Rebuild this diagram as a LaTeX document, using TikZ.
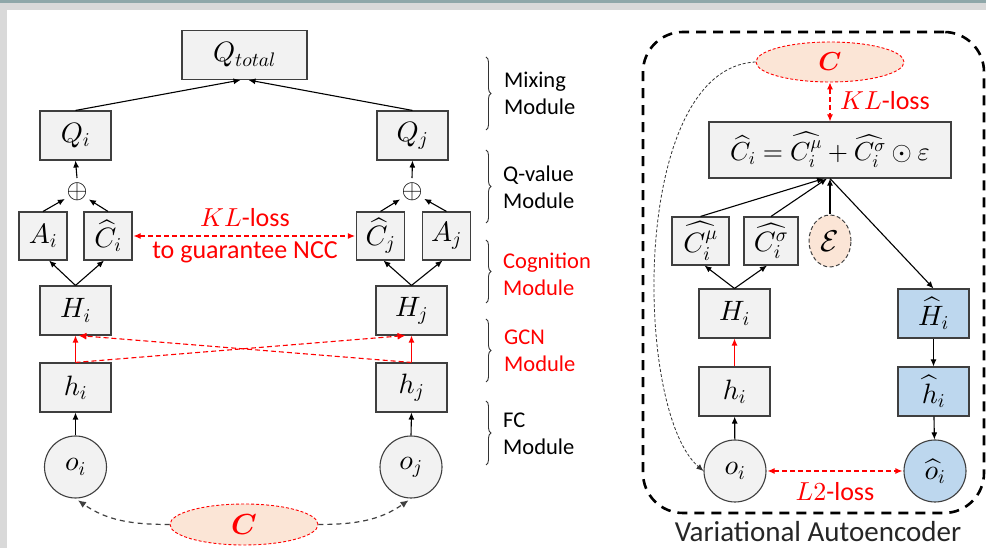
\RequirePackage{fix-cm}
\documentclass[tikz,border=0pt]{standalone}
\usepackage{amsmath}
\usepackage{bm}
\usepackage{fontspec}
\setmainfont{Carlito}
\usepackage{xcolor}
\usepackage{tikz}
\usetikzlibrary{arrows.meta,calc,positioning,shapes.geometric,decorations.pathreplacing}
\DeclareFontShape{OML}{cmm}{m}{it}{<->cmmi10}{}
\DeclareFontShape{OML}{cmm}{b}{it}{<->cmmib10}{}
\DeclareFontShape{OMS}{cmsy}{m}{n}{<->cmsy10}{}
\DeclareFontShape{OMS}{cmsy}{b}{n}{<->cmbsy10}{}
\DeclareFontShape{OT1}{cmr}{m}{n}{<->cmr10}{}
\DeclareFontShape{OT1}{cmr}{bx}{n}{<->cmbx10}{}
\DeclareFontShape{OMX}{cmex}{m}{n}{<->cmex10}{}
\definecolor{boxfill}{HTML}{F2F2F2}
\definecolor{boxline}{HTML}{3F3F3F}
\definecolor{ctxfill}{HTML}{FBE5D6}
\definecolor{decfill}{HTML}{BDD7EE}
\definecolor{lossred}{HTML}{FF0000}
\definecolor{frametop}{HTML}{8FA7A9}
\definecolor{framegray}{HTML}{D9D9D9}
\newcommand{\boxmath}{\fontsize{28}{30}\selectfont}
\tikzset{
  blk/.style={
    rectangle,
    draw=boxline,
    line width=1.1pt,
    fill=boxfill,
    inner sep=0pt,
    minimum width=71pt,
    minimum height=49pt,
    font=\boxmath
  },
  smallblk/.style={minimum width=48pt, minimum height=48pt},
  decbox/.style={fill=decfill},
  agent/.style={circle, draw=boxline, line width=1.1pt, fill=boxfill, inner sep=0pt, minimum size=62pt, font=\boxmath},
  sumop/.style={circle, inner sep=0pt, minimum size=18pt, font=\fontsize{27}{28}\selectfont},
  ctxnode/.style={ellipse, draw=lossred, line width=0.9pt, dash pattern=on 3pt off 2pt, fill=ctxfill, inner sep=0pt, text=lossred, font=\fontsize{26}{28}\selectfont},
  noise/.style={ellipse, draw=boxline, line width=1pt, dash pattern=on 4pt off 2.5pt, fill=ctxfill, inner sep=0pt, minimum width=42pt, minimum height=52pt, font=\fontsize{30}{32}\selectfont},
  flow/.style={line width=1.1pt, draw=black, -{Latex[length=7pt,width=6pt]}},
  gcnflow/.style={flow, draw=lossred},
  crossflow/.style={line width=1.1pt, draw=lossred, dash pattern=on 5pt off 3pt, -{Latex[length=8pt,width=7pt]}},
  lossflow/.style={line width=1.1pt, draw=lossred, dash pattern=on 5pt off 3pt, {Latex[length=7pt,width=6pt]}-{Latex[length=7pt,width=6pt]}},
  ctxflow/.style={line width=1.2pt, draw=black!75, dash pattern=on 5pt off 4pt, -{Latex[length=8pt,width=7pt]}},
  encflow/.style={line width=0.8pt, draw=black!80, dash pattern=on 3pt off 2pt, -{Latex[length=7pt,width=6pt]}},
  losslabel/.style={text=lossred, font=\fontsize{26}{32}\selectfont, align=center, inner sep=0pt},
  modbrace/.style={decorate, decoration={brace, amplitude=5pt}, line width=0.9pt, draw=black!80},
  modlabel/.style={anchor=west, align=left, inner sep=0pt, font=\fontsize{22.5}{27}\selectfont},
  vaebox/.style={draw=black, line width=2.6pt, dash pattern=on 10pt off 7pt, rounded corners=40pt, inner sep=0pt},
  vaetitle/.style={font=\fontsize{29}{31}\selectfont, text=black!85, inner sep=0pt}
}

\begin{document}
\begin{tikzpicture}[x=1pt,y=1pt]
\useasboundingbox (0,0) rectangle (986,548);
\fill[white] (0,0) rectangle (986,548);
\fill[framegray] (0,538) rectangle (986,548);
\fill[frametop] (0,545) rectangle (986,548);
\fill[framegray] (0,0) rectangle (7,538);

% agent network
\node[blk, minimum width=125pt] (qtot) at (244.5,493) {$Q_{total}$};
\node[blk] (qi) at (75.5,412.5) {$Q_i$};
\node[blk] (qj) at (412.5,412.5) {$Q_j$};
\node[sumop] (plusi) at (77,356) {$\oplus$};
\node[sumop] (plusj) at (412,356) {$\oplus$};
\node[blk, smallblk] (ai) at (43,312) {$A_i$};
\node[blk, smallblk] (chati) at (108,312) {$\widehat{C}_i$};
\node[blk, smallblk] (chatj) at (380.5,312) {$\widehat{C}_j$};
\node[blk, smallblk] (aj) at (446.5,312) {$A_j$};
\node[blk] (hhi) at (75.5,237.5) {$H_i$};
\node[blk] (hhj) at (411.5,237.5) {$H_j$};
\node[blk] (hi) at (75.5,160.5) {$h_i$};
\node[blk] (hj) at (411.5,160.5) {$h_j$};
\node[agent] (oi) at (75.5,81) {$o_i$};
\node[agent] (oj) at (411,81) {$o_j$};
\node[ctxnode, minimum width=148pt, minimum height=41pt, font=\fontsize{29}{31}\selectfont] (ctx) at (244,23.5) {$\bm{C}$};

\draw[flow] (qi.north) -- ([xshift=-4pt]qtot.south);
\draw[flow] (qj.north) -- ([xshift=4pt]qtot.south);
\foreach \a/\b in {plusi/qi,plusj/qj,oi/hi,oj/hj}
  \draw[flow] (\a.north) -- (\b.south);
\foreach \a/\b in {ai/plusi,chati/plusi,chatj/plusj,aj/plusj}
  \draw[flow] (\a.north) -- (\b);
\draw[flow] (hhi.north) -- ([xshift=6pt]ai.south);
\draw[flow] (hhi.north) -- ([xshift=-4pt]chati.south);
\draw[flow] (hhj.north) -- ([xshift=3pt]chatj.south);
\draw[flow] (hhj.north) -- ([xshift=-4pt]aj.south);
\foreach \a/\b in {hi/hhi,hj/hhj}
  \draw[gcnflow] (\a.north) -- (\b.south);
\draw[crossflow] (hi.north) -- ([xshift=-6pt]hhj.south);
\draw[crossflow] (hj.north) -- ([xshift=3pt]hhi.south);
\draw[lossflow, shorten <=1pt, shorten >=1pt] (chati.east) -- (chatj.west);
\node[losslabel] (ncc) at (245,312) {$KL$-loss\\to guarantee NCC};
\draw[ctxflow, shorten >=3pt] (ctx.west) to[out=180,in=-35] (oi.south);
\draw[ctxflow, shorten >=3pt] (ctx.east) to[out=0,in=-145] (oj.south);

% module braces
\draw[modbrace] (486,491) -- (486,418);
\draw[modbrace] (486,398) -- (486,325);
\draw[modbrace] (486,308) -- (486,245);
\draw[modbrace] (486,229) -- (486,166);
\draw[modbrace] (486,147) -- (486,83);
\node[modlabel] (mixlbl) at (504,454.5) {Mixing\\Module};
\node[modlabel] (qlbl) at (503,361) {Q-value\\Module};
\node[modlabel, text=lossred] (coglbl) at (503,273.5) {Cognition\\Module};
\node[modlabel, text=lossred] (gcnlbl) at (504,197) {GCN\\Module};
\node[modlabel] (fclbl) at (503,114) {FC\\Module};

% variational autoencoder
\node[vaebox, minimum width=341pt, minimum height=481pt] (vae) at (813.5,275.5) {};
\node[vaetitle] (vaename) at (818,16) {Variational Autoencoder};
\node[ctxnode, minimum width=148pt, minimum height=40pt] (vctx) at (830,486) {$\bm{C}$};
\node[blk, minimum width=242pt, minimum height=56pt, font=\fontsize{26}{28}\selectfont] (form) at (830,398) {$\widehat{C}_i = \widehat{C_i^{\mu}} + \widehat{C_i^{\sigma}} \odot \varepsilon$};
\node[blk, minimum width=57pt, minimum height=48pt] (cmu) at (700.5,307) {$\widehat{C_i^{\mu}}$};
\node[blk, minimum width=54pt, minimum height=48pt] (csig) at (771,307) {$\widehat{C_i^{\sigma}}$};
\node[noise] (eps) at (830,307) {$\mathcal{E}$};
\node[blk] (vhhi) at (734.5,234.5) {$H_i$};
\node[blk] (vhi) at (734.5,156.5) {$h_i$};
\node[agent] (voi) at (735,77) {$o_i$};
\node[blk, decbox] (rhh) at (933.5,234.5) {$\widehat{H}_i$};
\node[blk, decbox] (rh) at (933.5,156.5) {$\widehat{h}_i$};
\node[agent, decbox] (ro) at (935,77) {$\widehat{o}_i$};

\draw[lossflow] (vctx.south) -- (form.north);
\node[losslabel, anchor=west] (vkl) at (840,447) {$KL$-loss};
\draw[flow] (cmu.north) -- ([xshift=-6pt]form.south);
\draw[flow] (csig.north) -- ([xshift=-3pt]form.south);
\draw[flow] (eps.north) -- (form.south);
\draw[flow] (form.south) -- (rhh.north);
\draw[flow] (vhhi.north) -- ([xshift=4pt]cmu.south);
\draw[flow] (vhhi.north) -- ([xshift=-4pt]csig.south);
\draw[gcnflow] (vhi.north) -- (vhhi.south);
\foreach \a/\b in {voi/vhi,rhh/rh,rh/ro}
  \draw[flow] (\a) -- (\b);
\draw[lossflow, shorten <=1pt, shorten >=1pt] (voi.east) -- (ro.west);
\node[losslabel] (l2) at (835,56) {$L2$-loss};
\draw[encflow] (vctx.west) .. controls +(-126,-6) and +(-70,60) .. (voi.west);
\end{tikzpicture}
\end{document}
